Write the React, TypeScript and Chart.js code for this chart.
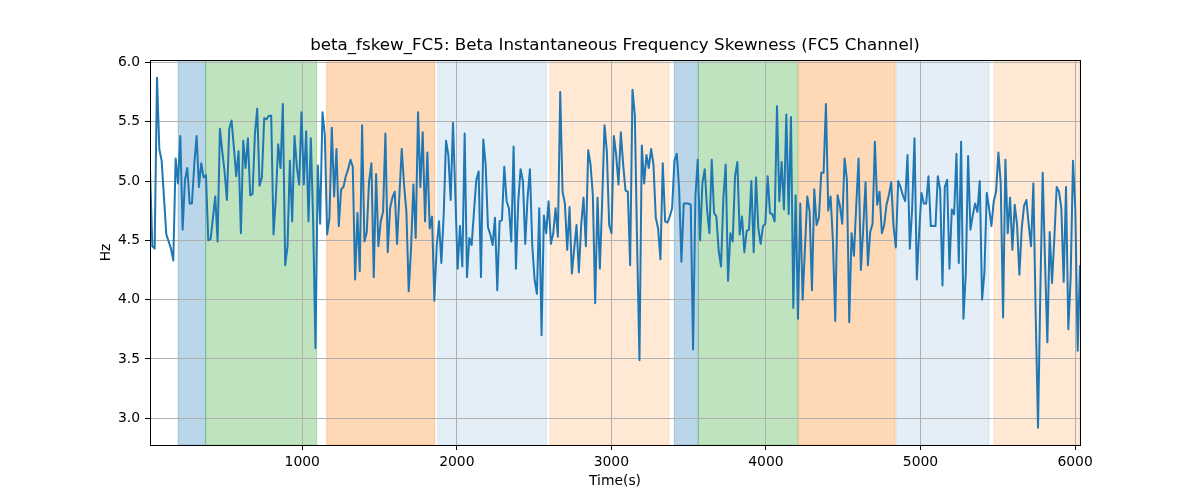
import React, { useEffect, useRef } from "react";
import { Chart, registerables } from "chart.js";

Chart.register(...registerables);

const TITLE = "beta_fskew_FC5: Beta Instantaneous Frequency Skewness (FC5 Channel)";
const X_LABEL = "Time(s)";
const Y_LABEL = "Hz";

const T_START = 15;
const T_STEP = 15.08;
const X_MIN = 15;
const X_MAX = 6032;
const Y_MIN = 2.775;
const Y_MAX = 6.02;

const X_TICKS = [1000, 2000, 3000, 4000, 5000, 6000];
const Y_TICKS = [3.0, 3.5, 4.0, 4.5, 5.0, 5.5, 6.0];

// Beta instantaneous frequency skewness (Hz), one sample every T_STEP seconds
const HZ_VALUES = [
  5.10, 4.45, 4.43, 5.87, 5.27, 5.17, 4.86, 4.55, 4.49, 4.43,
  4.33, 5.19, 4.98, 5.38, 4.59, 5.01, 5.11, 4.81, 4.81, 5.14,
  5.38, 4.95, 5.15, 5.03, 5.05, 4.50, 4.51, 4.69, 4.87, 4.49,
  5.44, 5.25, 5.08, 4.84, 5.44, 5.51, 5.28, 5.04, 5.25, 4.56,
  5.34, 5.11, 5.36, 4.88, 4.89, 5.39, 5.61, 4.96, 5.03, 5.53,
  5.52, 5.55,
  5.55, 4.55, 4.86, 5.31, 5.11, 5.65, 4.29, 4.45, 5.17, 4.66,
  5.38, 5.12, 4.97, 5.58, 4.97, 5.42, 4.66, 5.36, 4.66, 3.59,
  5.13, 4.64, 5.58, 5.39, 4.55, 4.69, 5.45, 4.87, 5.27, 4.62,
  4.93, 4.95, 5.04, 5.10, 5.18, 5.12, 4.17, 4.73, 4.24, 5.47,
  4.49, 4.57, 5.00, 5.15, 4.19, 5.06, 4.45, 4.66, 4.74, 5.40,
  4.40,
  4.77, 4.86, 4.91, 4.47, 4.88, 5.27, 4.97, 4.74, 4.07, 4.43,
  4.97, 4.52, 5.58, 4.95, 5.41, 4.66, 5.24, 4.60, 4.70, 3.99,
  4.45, 4.66, 4.31, 4.71, 5.34, 5.22, 4.84, 5.49, 4.88, 4.26,
  4.62, 4.28, 5.40, 4.19, 4.52, 4.46, 4.74, 5.01, 5.08, 4.19,
  5.35, 5.14, 4.61, 4.55, 4.46, 4.69, 4.08, 4.66, 4.67, 5.12,
  4.83, 4.77, 4.49, 5.29, 4.26, 4.83, 5.10, 5.00, 4.47, 4.86,
  5.10, 4.46, 4.17, 4.05, 4.77, 3.70, 4.71, 4.56, 4.83, 4.47,
  4.56, 4.77, 4.53, 5.75, 4.91, 4.81, 4.42, 4.78, 4.22, 4.43,
  4.63, 4.23, 4.63, 4.86, 4.45, 5.26, 5.14, 4.88, 3.97, 4.86,
  4.26, 4.83, 5.47, 5.25, 4.63, 4.56, 5.38, 5.22, 4.97,
  5.41, 5.14, 4.92, 4.91, 4.29, 5.77, 5.56, 4.46, 3.49, 5.30,
  4.98, 5.22, 5.11, 5.27, 5.14, 4.69, 4.60, 4.34, 5.15, 4.66,
  4.65, 4.70, 4.77, 5.17, 5.23, 4.94, 4.32, 4.81, 4.81, 4.81,
  4.80, 3.58, 4.87, 5.18, 4.50, 4.98, 5.10, 4.76, 4.56, 5.18,
  4.73, 4.70, 4.41, 4.28, 4.86, 5.14, 4.16, 4.56, 4.49,
  5.04, 5.16, 4.55, 4.70, 4.40, 4.58, 4.59, 5.00, 4.40, 5.03,
  4.60, 4.47, 4.62, 4.64, 5.04, 4.73, 4.72, 4.66, 5.63, 4.83,
  5.16, 4.76, 5.56, 4.72, 5.54, 3.93, 4.88, 3.84, 4.81, 4.00,
  4.43, 4.87, 4.74, 4.08, 4.93, 4.63, 4.69, 5.07, 5.07, 5.65,
  4.75, 4.87, 4.49, 3.82, 4.88, 4.79, 4.64, 5.19, 5.01, 3.81,
  4.56, 4.37, 4.79, 5.19, 4.25, 4.60, 4.99, 4.29, 4.57, 4.64,
  5.33, 4.80, 4.91, 4.56, 4.63, 4.80, 4.88, 4.99, 4.62, 4.44,
  5.00, 4.95, 4.88, 4.83, 5.22, 4.43, 4.77, 5.36, 4.17, 4.57,
  4.90, 4.81, 4.81, 5.04, 4.62, 4.62, 4.62, 5.04, 4.93, 4.12,
  4.95, 5.01, 4.26, 4.76, 4.72, 5.23, 4.31, 5.33, 3.84,
  4.22, 5.21, 4.59, 4.71, 4.81, 4.74, 5.00, 4.00, 4.23, 4.90,
  4.77, 4.62, 4.83, 4.91, 5.24, 4.98, 3.85, 5.18, 4.56, 4.86,
  4.42, 4.80, 4.63, 4.21, 4.60, 4.79, 4.84, 4.63, 4.45, 4.98,
  3.87, 2.92, 4.09, 5.07, 4.32, 3.64, 4.57, 4.14, 4.52, 4.95,
  4.91, 4.77, 4.15, 4.95, 3.75, 4.19, 5.17, 4.76, 3.57, 4.29,
];

// Shaded segments (seconds) and their colours
const SPAN_START = [197, 375, 1158, 1876, 2603, 3407, 3562, 4212, 4841, 5476];
const SPAN_END = [375, 1093, 1858, 2581, 3373, 3562, 4207, 4835, 5443, 6032];
const SPAN_COLOR = [
  "rgba(31,119,180,0.3)",
  "rgba(44,160,44,0.3)",
  "rgba(255,127,14,0.3)",
  "rgba(31,119,180,0.12)",
  "rgba(255,127,14,0.18)",
  "rgba(31,119,180,0.3)",
  "rgba(44,160,44,0.3)",
  "rgba(255,127,14,0.3)",
  "rgba(31,119,180,0.12)",
  "rgba(255,127,14,0.18)",
];

const FONT = "'DejaVu Sans', Verdana, sans-serif";

const mplPlugin = {
  id: "mplDecor",
  beforeDraw(chart: any) {
    const { ctx, chartArea: a, scales } = chart;
    const x = scales.x;
    ctx.save();
    ctx.beginPath();
    ctx.rect(a.left, a.top, a.right - a.left, a.bottom - a.top);
    ctx.clip();
    for (let i = 0; i < SPAN_START.length; i++) {
      const x0 = x.getPixelForValue(SPAN_START[i]);
      const x1 = x.getPixelForValue(SPAN_END[i]);
      ctx.fillStyle = SPAN_COLOR[i];
      ctx.fillRect(x0, a.top, x1 - x0, a.bottom - a.top);
      ctx.strokeStyle = SPAN_COLOR[i];
      ctx.lineWidth = 1;
      ctx.strokeRect(x0, a.top, x1 - x0, a.bottom - a.top);
    }
    ctx.restore();
  },
  afterDraw(chart: any) {
    const { ctx, chartArea: a } = chart;
    ctx.save();
    ctx.strokeStyle = "#000";
    ctx.lineWidth = 1;
    ctx.strokeRect(Math.round(a.left) + 0.5, Math.round(a.top) + 0.5, Math.round(a.right - a.left), Math.round(a.bottom - a.top));
    ctx.fillStyle = "#000";
    ctx.textAlign = "center";
    ctx.textBaseline = "middle";
    const cx = (a.left + a.right) / 2;
    ctx.font = `16.7px ${FONT}`;
    ctx.fillText(TITLE, cx, 46);
    ctx.font = `13.9px ${FONT}`;
    ctx.fillText(X_LABEL, cx, 481);
    ctx.translate(106, (a.top + a.bottom) / 2);
    ctx.rotate(-Math.PI / 2);
    ctx.fillText(Y_LABEL, 0, 0);
    ctx.restore();
  },
};

export default function App() {
  const canvasRef = useRef<HTMLCanvasElement | null>(null);

  useEffect(() => {
    const canvas = canvasRef.current;
    if (!canvas) return;
    const points = HZ_VALUES.map((v, i) => ({ x: T_START + i * T_STEP, y: v }));
    const chart = new Chart(canvas, {
      type: "line",
      data: {
        datasets: [
          {
            data: points,
            borderColor: "#1f77b4",
            borderWidth: 2,
            pointRadius: 0,
            tension: 0,
            borderJoinStyle: "round",
            borderCapStyle: "butt",
            fill: false,
          },
        ],
      },
      options: {
        animation: false,
        responsive: false,
        devicePixelRatio: 1,
        layout: { padding: { top: 60, right: 120, left: 0, bottom: 0 } },
        plugins: {
          legend: { display: false },
          title: { display: false },
          tooltip: { enabled: false },
        },
        scales: {
          x: {
            type: "linear",
            min: X_MIN,
            max: X_MAX,
            afterBuildTicks: (scale: any) => {
              scale.ticks = X_TICKS.map((v) => ({ value: v }));
            },
            afterFit: (scale: any) => {
              scale.height = 55;
            },
            ticks: {
              autoSkip: false,
              maxRotation: 0,
              padding: 4,
              color: "#000",
              font: { family: FONT, size: 13.9 },
              callback: (v: any) => String(v),
            },
            grid: {
              color: "#b0b0b0",
              lineWidth: 1,
              drawTicks: true,
              tickLength: 5,
              tickColor: "#000",
              tickWidth: 1,
            },
            border: { display: false },
          },
          y: {
            type: "linear",
            min: Y_MIN,
            max: Y_MAX,
            afterBuildTicks: (scale: any) => {
              scale.ticks = Y_TICKS.map((v) => ({ value: v }));
            },
            afterFit: (scale: any) => {
              scale.width = 150;
            },
            ticks: {
              autoSkip: false,
              padding: 5,
              color: "#000",
              font: { family: FONT, size: 13.9 },
              callback: (v: any) => Number(v).toFixed(1),
            },
            grid: {
              color: "#b0b0b0",
              lineWidth: 1,
              drawTicks: true,
              tickLength: 5,
              tickColor: "#000",
              tickWidth: 1,
            },
            border: { display: false },
          },
        },
      },
      plugins: [mplPlugin],
    } as any);
    return () => chart.destroy();
  }, []);

  return (
    <div style={{ position: "absolute", left: 0, top: 0, width: 1200, height: 500, background: "#fff" }}>
      <canvas ref={canvasRef} width={1200} height={500} style={{ width: 1200, height: 500, display: "block" }} />
    </div>
  );
}
